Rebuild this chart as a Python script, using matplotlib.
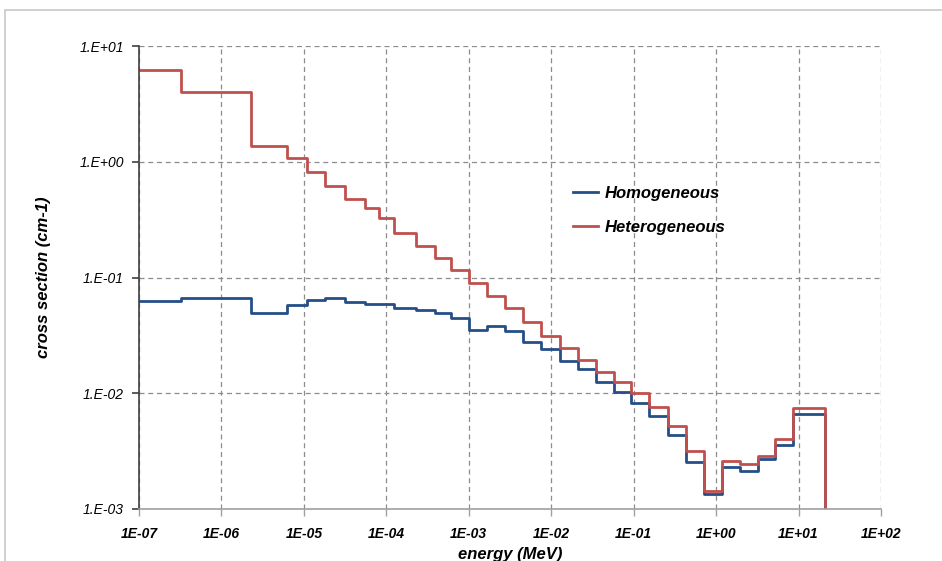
import math
import matplotlib
matplotlib.use("Agg")
import matplotlib.pyplot as plt
from matplotlib.patches import Rectangle
from matplotlib.ticker import FixedLocator, FuncFormatter, NullLocator

# group boundaries (MeV)
edges = [1.0e-7, 3.23e-7, 2.29e-6, 6.2e-6, 1.08e-5, 1.81e-5, 3.16e-5, 5.53e-5,
         8.25e-5, 1.23e-4, 2.30e-4, 3.91e-4, 6.11e-4, 1.02e-3, 1.66e-3, 2.77e-3,
         4.61e-3, 7.57e-3, 1.29e-2, 2.13e-2, 3.52e-2, 5.73e-2, 9.35e-2, 0.155,
         0.258, 0.431, 0.705, 1.17, 1.93, 3.22, 5.22, 8.57, 21.1]

homog = [0.0627, 0.0665, 0.0497, 0.0575, 0.064, 0.0665, 0.0617, 0.0586,
         0.0586, 0.0549, 0.0525, 0.049, 0.045, 0.035, 0.038, 0.0347,
         0.0279, 0.0243, 0.019, 0.0161, 0.0126, 0.0103, 0.0082, 0.0064,
         0.0044, 0.00257, 0.00136, 0.0023, 0.00213, 0.00269, 0.00357, 0.00666]

heterog = [6.2, 3.98, 1.38, 1.08, 0.81, 0.62, 0.476, 0.40,
           0.325, 0.24, 0.187, 0.146, 0.116, 0.089, 0.0696, 0.054,
           0.041, 0.0314, 0.0248, 0.0194, 0.0153, 0.0125, 0.0100, 0.00766,
           0.00521, 0.00319, 0.00143, 0.0026, 0.00243, 0.00288, 0.00403, 0.00746]

xticks = [1e-7, 1e-6, 1e-5, 1e-4, 1e-3, 1e-2, 1e-1, 1e0, 1e1, 1e2]
yticks = [1e-3, 1e-2, 1e-1, 1e0, 1e1]

plt.rcParams['font.family'] = ['Liberation Sans', 'DejaVu Sans']

fig = plt.figure(figsize=(9.42, 5.61), dpi=100)
ax = fig.add_axes([139/942, 1 - 509/561, (881 - 139)/942, (509 - 46)/561])

# outer chart frame
fig.patches.append(Rectangle((5/942, -0.1), 1.2, 1 - 10/561 + 0.1, transform=fig.transFigure,
                             fill=False, edgecolor='#c8c8c8', linewidth=1.2))

# last point drops off the bottom of the plot
ax.step(edges, homog + [1e-6], where='post', color='#254E87', lw=2.0, label='Homogeneous')
ax.step(edges, heterog + [1e-6], where='post', color='#C0504D', lw=2.0, label='Heterogeneous')

ax.set_xscale('log')
ax.set_yscale('log')
ax.set_xlim(1e-7, 1e2)
ax.set_ylim(1e-3, 1e1)

ax.xaxis.set_major_locator(FixedLocator(xticks))
ax.yaxis.set_major_locator(FixedLocator(yticks))
ax.xaxis.set_minor_locator(NullLocator())
ax.yaxis.set_minor_locator(NullLocator())

def xfmt(v, pos):
    return "1E%+03d" % int(round(math.log10(v)))

def yfmt(v, pos):
    return "1.E%+03d" % int(round(math.log10(v)))

ax.xaxis.set_major_formatter(FuncFormatter(xfmt))
ax.yaxis.set_major_formatter(FuncFormatter(yfmt))

for lab in ax.get_xticklabels():
    lab.set_fontstyle('italic')
    lab.set_fontweight('bold')
    lab.set_fontsize(10)
for lab in ax.get_yticklabels():
    lab.set_fontstyle('italic')
    lab.set_fontsize(10)

ax.grid(True, which='major', color='#8c8c8c', linestyle=(0, (4, 3)), lw=0.9)
ax.set_axisbelow(True)

for s in ['top', 'right']:
    ax.spines[s].set_visible(False)
ax.spines['left'].set_color('#404040')
ax.spines['left'].set_linewidth(1.2)
ax.spines['bottom'].set_color('#a0a0a0')
ax.spines['bottom'].set_linewidth(1.2)
ax.tick_params(axis='y', direction='out', length=5, width=1.2, color='#404040', pad=6)
ax.tick_params(axis='x', direction='out', length=5, width=1.0, color='#a0a0a0', pad=8)

ax.set_xlabel('energy (MeV)', fontsize=12, fontweight='bold', fontstyle='italic', labelpad=4)
ax.set_ylabel('cross section (cm-1)', fontsize=12, fontweight='bold', fontstyle='italic', labelpad=20)

leg = ax.legend(loc='upper left', bbox_to_anchor=(0.565, 0.73), frameon=False,
                prop={'size': 12, 'weight': 'bold', 'style': 'italic'},
                handlelength=1.5, handletextpad=0.4, labelspacing=1.15)

fig.savefig('out.png', dpi=100)
